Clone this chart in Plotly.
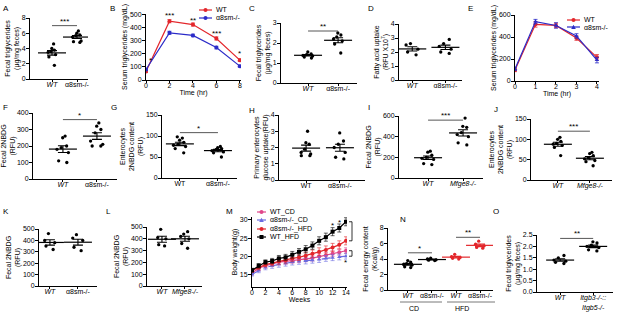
import numpy as np
import plotly.graph_objects as go

W, H = 617, 313
FONT = "Liberation Sans, Arial, sans-serif"
RED = "#e3262b"
BLUE = "#2b2bc8"
PINK = "#e0468a"
LBLUE = "#6b6be0"

# ---------------- data ----------------
A_cats = ["<i>WT</i>", "α8sm-/-"]
A_wt = [4.6, 4.0, 3.8, 3.6, 3.5, 3.2, 2.9, 1.8]
A_ko = [6.3, 6.0, 5.8, 5.7, 5.5, 5.0, 4.9, 4.8]

B_time = [0, 2, 4, 6, 8]
B_wt = [65, 450, 424, 318, 152]
B_wt_err = [8, 12, 12, 12, 10]
B_ko = [80, 361, 341, 248, 106]
B_ko_err = [8, 12, 10, 10, 8]

C_cats = ["<i>WT</i>", "α8sm-/-"]
C_wt = [1.55, 1.45, 1.42, 1.38, 1.35, 1.3, 1.25]
C_ko = [2.5, 2.4, 2.3, 2.2, 2.1, 1.95, 1.5]

D_cats = ["<i>WT</i>", "α8sm-/-"]
D_wt = [2.6, 2.5, 2.2, 2.0, 1.8]
D_ko = [2.9, 2.6, 2.4, 2.2, 2.0, 1.9]

E_time = [0, 1, 2, 3, 4]
E_wt = [100, 515, 505, 390, 215]
E_wt_err = [15, 25, 20, 20, 25]
E_ko = [110, 540, 505, 410, 190]
E_ko_err = [15, 20, 25, 20, 25]

F_cats = ["<i>WT</i>", "α8sm-/-"]
F_wt = [260, 250, 200, 190, 180, 160, 110, 100]
F_ko = [340, 320, 300, 280, 230, 210, 200, 200]

G_cats = ["WT", "α8sm-/-"]
G_wt = [98, 95, 90, 85, 80, 78, 75, 70, 60]
G_ko = [75, 72, 70, 68, 65, 62, 60, 50]

H_cats = ["WT", "α8sm-/-"]
H_wt = [3.0, 2.3, 2.2, 1.9, 1.7, 1.6, 1.5, 1.5]
H_ko = [2.9, 2.4, 2.2, 2.0, 1.7, 1.4, 1.3]

I_cats = ["<i>WT</i>", "<i>Mfge8-/-</i>"]
I_wt = [260, 250, 220, 200, 190, 180, 140, 130]
I_ko = [580, 500, 490, 440, 420, 400, 340, 320]

J_cats = ["<i>WT</i>", "<i>Mfge8-/-</i>"]
J_wt = [105, 100, 95, 90, 88, 85, 80, 60]
J_ko = [68, 65, 60, 55, 52, 48, 45, 35]

K_cats = ["<i>WT</i>", "α8sm-/-"]
K_wt = [460, 400, 380, 350, 320]
K_ko = [450, 420, 400, 340, 310]

L_cats = ["<i>WT</i>", "<i>Mfge8-/-</i>"]
L_wt = [480, 410, 400, 350, 340]
L_ko = [460, 440, 420, 400, 360, 320]

M_weeks = list(range(15))
M_wt_cd = [15.5, 16.8, 17.5, 18.0, 18.5, 18.7, 19.0, 19.2, 19.4, 19.6, 20.0, 20.3, 20.8, 21.2, 21.6]
M_ko_cd = [15.2, 16.2, 17.0, 17.5, 17.9, 18.2, 18.5, 18.7, 18.8, 19.0, 19.2, 19.5, 19.7, 19.9, 20.1]
M_ko_hfd = [16.2, 17.0, 17.8, 18.2, 18.7, 19.0, 19.5, 19.8, 20.2, 20.8, 21.3, 21.8, 22.5, 23.2, 24.3]
M_wt_hfd = [16.3, 17.5, 18.5, 18.8, 19.5, 19.8, 20.5, 21.3, 22.0, 23.0, 24.3, 25.3, 26.8, 27.8, 29.5]
M_err_cd = [0.5, 0.6, 0.6, 0.7, 0.8, 0.8, 0.8, 0.8, 0.8, 0.8, 0.8, 0.8, 0.8, 0.8, 0.8]
M_err_hfd = [0.5, 0.6, 0.6, 0.7, 0.8, 0.8, 0.9, 0.9, 1.0, 1.0, 1.1, 1.1, 1.1, 1.1, 1.1]

N_cats = ["<i>WT</i>", "α8sm-/-", "<i>WT</i>", "α8sm-/-"]
N_groups = ["CD", "HFD"]
N_wt_cd = [3.8, 3.6, 3.4, 3.3, 3.2, 3.0, 2.9]
N_ko_cd = [4.1, 4.0, 3.9, 3.85, 3.8]
N_wt_hfd = [4.6, 4.3, 4.2, 4.1, 4.0]
N_ko_hfd = [6.3, 5.9, 5.7, 5.5, 5.4]

O_cats = ["<i>WT</i>", "<i>Itgb3-/-::<br>Itgb5-/-</i>"]
O_wt = [1.6, 1.5, 1.4, 1.35, 1.3, 1.25]
O_ko = [2.2, 2.15, 2.05, 2.0, 1.95, 1.85, 1.8]

# ---------------- helpers ----------------
fig = go.Figure()
layout = {}
shapes = []
annots = []
state = {"n": 0}
axinfo = {}


def new_axes(xpx, ypx, xrange, yrange, ytickvals, ytitle, xtickvals=None,
             xticktext=None, xtitle=None, ytickfmt=None):
    state["n"] += 1
    n = state["n"]
    sx = "" if n == 1 else str(n)
    xref, yref = "x" + sx, "y" + sx
    common = dict(showline=True, linecolor="black", linewidth=1, ticks="outside",
                  tickwidth=1, tickcolor="black", showgrid=False, zeroline=False,
                  tickfont=dict(size=7, color="black", family=FONT), automargin=False,
                  fixedrange=True)
    xa = dict(common, domain=[xpx[0] / W, xpx[1] / W], range=xrange, anchor=yref,
              ticklen=2, ticklabelstandoff=-3)
    if xtickvals is not None:
        xa.update(tickmode="array", tickvals=xtickvals, ticktext=xticktext)
    if xtitle:
        xa.update(title=dict(text=xtitle, font=dict(size=7, family=FONT, color="black"),
                             standoff=0))
    ya = dict(common, domain=[1 - ypx[1] / H, 1 - ypx[0] / H], range=yrange,
              anchor=xref, ticklen=3, tickmode="array", tickvals=ytickvals,
              ticklabelstandoff=-1,
              title=dict(text=ytitle, font=dict(size=7, family=FONT, color="black"),
                         standoff=1))
    if ytickfmt:
        ya.update(ticktext=[format(v, ytickfmt) for v in ytickvals])
    layout["xaxis" + sx] = xa
    layout["yaxis" + sx] = ya
    axinfo[yref] = (ya["domain"], yrange)
    return xref, yref


def ypaper(yref, v):
    dom, rng = axinfo[yref]
    return dom[0] + (v - rng[0]) / (rng[1] - rng[0]) * (dom[1] - dom[0])


def dots(xref, yref, pos, vals, color="black"):
    fig.add_trace(go.Box(x=[pos] * len(vals), y=vals, xaxis=xref, yaxis=yref,
                         boxpoints="all", jitter=0.9, pointpos=0,
                         fillcolor="rgba(0,0,0,0)",
                         line=dict(color="rgba(0,0,0,0)", width=0),
                         marker=dict(color=color, size=3.3, line=dict(width=0)),
                         showlegend=False, hoverinfo="y"))
    m = float(np.mean(vals))
    s = float(np.std(vals, ddof=1) / np.sqrt(len(vals)))
    fig.add_trace(go.Scatter(x=[pos], y=[m], mode="markers", xaxis=xref, yaxis=yref,
                             marker=dict(symbol="line-ew", size=20, color=color,
                                         line=dict(width=1.2, color=color)),
                             error_y=dict(type="data", array=[s], thickness=1.1,
                                          width=5, color=color),
                             showlegend=False, hoverinfo="y"))


def sig(xref, yref, x0, x1, y, text):
    shapes.append(dict(type="line", xref=xref, yref=yref, x0=x0, x1=x1, y0=y, y1=y,
                       line=dict(color="#444", width=0.9)))
    annots.append(dict(xref=xref, yref=yref, x=(x0 + x1) / 2, y=y, text=text,
                       showarrow=False, yanchor="bottom", yshift=-2,
                       font=dict(size=8, family=FONT, color="black")))


def star(xref, yref, x, y, text):
    annots.append(dict(xref=xref, yref=yref, x=x, y=y, text=text, showarrow=False,
                       yanchor="middle", font=dict(size=8, family=FONT, color="black")))


def letter(px, py, t):
    annots.append(dict(xref="paper", yref="paper", x=px / W, y=1 - py / H, text=t,
                       showarrow=False, xanchor="left", yanchor="top",
                       font=dict(size=8, family=FONT, color="black")))


def legend_item(x0, x1, y, color, text, symbol="circle", dash="solid"):
    """Manual compact legend entry (line sample + marker + label), pixel coords."""
    yp = 1 - y / H
    shapes.append(dict(type="line", xref="paper", yref="paper", x0=x0 / W, x1=x1 / W,
                       y0=yp, y1=yp, line=dict(color=color, width=1.2, dash=dash)))
    xc = (x0 + x1) / 2
    r = 2
    if symbol == "circle":
        shapes.append(dict(type="circle", xref="paper", yref="paper",
                           x0=(xc - r) / W, x1=(xc + r) / W, y0=1 - (y + r) / H,
                           y1=1 - (y - r) / H, fillcolor=color, line=dict(width=0)))
    elif symbol == "square":
        shapes.append(dict(type="rect", xref="paper", yref="paper",
                           x0=(xc - r) / W, x1=(xc + r) / W, y0=1 - (y + r) / H,
                           y1=1 - (y - r) / H, fillcolor=color, line=dict(width=0)))
    else:
        shapes.append(dict(type="path", xref="paper", yref="paper",
                           path=f"M {(xc - 2.3) / W},{1 - (y + 2) / H} L {(xc + 2.3) / W},{1 - (y + 2) / H} "
                                f"L {xc / W},{1 - (y - 2.3) / H} Z",
                           fillcolor=color, line=dict(width=0)))
    annots.append(dict(xref="paper", yref="paper", x=(x1 + 2) / W, y=yp, text=text,
                       showarrow=False, xanchor="left", yanchor="middle",
                       font=dict(size=7, family=FONT, color="black")))


def dot_panel(xpx, ypx, xr, yr, yticks, ytitle, cats, groups, colors=None, fmt=None):
    xref, yref = new_axes(xpx, ypx, xr, yr, yticks, ytitle,
                          xtickvals=list(range(len(cats))), xticktext=cats, ytickfmt=fmt)
    for i, g in enumerate(groups):
        dots(xref, yref, i, g, colors[i] if colors else "black")
    return xref, yref


def line_trace(xref, yref, x, y, err, color, name, symbol="circle", dash="solid",
               ethick=0.8):
    fig.add_trace(go.Scatter(x=x, y=y, mode="lines+markers", name=name, xaxis=xref,
                             yaxis=yref, showlegend=False,
                             line=dict(color=color, width=1.2, dash=dash),
                             marker=dict(color=color, size=4, symbol=symbol),
                             error_y=dict(type="data", array=err, thickness=ethick,
                                          width=2, color=color)))


# ---------------- row 1 ----------------
letter(1, 2, "A")
xa, ya = dot_panel((30, 88), (18, 79), [-0.88, 1.44], [0, 8], [0, 2, 4, 6, 8],
                   "Fecal triglycerides<br>(μg/mg feces)", A_cats, [A_wt, A_ko])
sig(xa, ya, 0, 1, 7.0, "***")

letter(108, 2, "B")
xb, yb = new_axes((146, 241), (14, 80), [0, 8.1], [0, 505], [0, 100, 200, 300, 400, 500],
                  "Serum triglycerides (mg/dL)", xtickvals=[0, 2, 4, 6, 8],
                  xticktext=["0", "2", "4", "6", "8"], xtitle="Time (hr)")
line_trace(xb, yb, B_time, B_wt, B_wt_err, RED, "WT")
line_trace(xb, yb, B_time, B_ko, B_ko_err, BLUE, "α8sm-/-")
star(xb, yb, 0.35, 150, "*")
star(xb, yb, 2, 492, "***")
star(xb, yb, 4, 458, "**")
star(xb, yb, 6, 356, "***")
star(xb, yb, 8, 205, "*")
legend_item(199, 212, 10, RED, "WT")
legend_item(199, 212, 18, BLUE, "α8sm-/-")

letter(247, 2, "C")
xc, yc = dot_panel((281, 357), (23, 83), [-0.9, 1.63], [0, 3], [0, 1, 2, 3],
                   "Fecal triglycerides<br>(μg/mg feces)", C_cats, [C_wt, C_ko])
sig(xc, yc, 0, 1, 2.6, "**")

letter(366, 2, "D")
xd, yd = dot_panel((399, 462), (24, 80), [-0.4, 1.5], [0, 4], [0, 1, 2, 3, 4],
                   "Fatty acid uptake<br>(RFU X10<sup>7</sup>)", D_cats, [D_wt, D_ko])

letter(466, 2, "E")
xe, ye = new_axes((515, 599), (15, 81), [0, 4.1], [0, 600], [0, 200, 400, 600],
                  "Serum triglycerides (mg/dL)", xtickvals=[0, 1, 2, 3, 4],
                  xticktext=["0", "1", "2", "3", "4"], xtitle="Time (hr)")
line_trace(xe, ye, E_time, E_wt, E_wt_err, RED, "WT")
line_trace(xe, ye, E_time, E_ko, E_ko_err, BLUE, "α8sm-/-", symbol="triangle-up")
legend_item(567, 580, 20, RED, "WT")
legend_item(567, 580, 27, BLUE, "α8sm-/-", symbol="triangle")

# ---------------- row 2 ----------------
letter(1, 101, "F")
xf, yf = dot_panel((33, 117), (113, 179), [-0.88, 1.59], [0, 400], [0, 100, 200, 300, 400],
                   "Fecal 2NBDG<br>(RFU)", F_cats, [F_wt, F_ko])
sig(xf, yf, 0, 1, 360, "*")

letter(109, 101, "G")
xg, yg = dot_panel((162, 237), (115, 178), [-0.47, 1.5], [0, 150], [0, 50, 100, 150],
                   "Enterocytes<br>2NBDG content<br>(RFU)", G_cats, [G_wt, G_ko])
sig(xg, yg, 0, 1, 108, "*")

letter(247, 104, "H")
xh, yh = dot_panel((279, 365), (115, 180), [-0.8, 1.74], [0, 4], [0, 1, 2, 3, 4],
                   "Primary enterocytes<br>glucose uptake(RFU)", H_cats, [H_wt, H_ko])

letter(366, 101, "I")
xi, yi = dot_panel((399, 483), (116, 178), [-0.83, 1.57], [0, 600], [0, 200, 400, 600],
                   "Fecal 2NBDG<br>(RFU)", I_cats, [I_wt, I_ko])
sig(xi, yi, 0, 1, 560, "***")

letter(492, 103, "J")
xj, yj = dot_panel((531, 612), (119, 180), [-0.84, 1.69], [0, 150], [0, 50, 100, 150],
                   "Enterocytes<br>2NBDG content<br>(RFU)", J_cats, [J_wt, J_ko])
sig(xj, yj, 0, 1, 120, "***")

# ---------------- row 3 ----------------
letter(1, 205, "K")
xk, yk = dot_panel((39, 97), (229, 286), [-0.39, 1.68], [0, 500],
                   [0, 100, 200, 300, 400, 500], "Fecal 2NBDG<br>(RFU)", K_cats, [K_wt, K_ko])

letter(104, 205, "L")
xl, yl = dot_panel((147, 202), (227, 286), [-0.65, 1.74], [0, 500],
                   [0, 100, 200, 300, 400, 500], "Fecal 2NBDG<br>(RFU)", L_cats, [L_wt, L_ko])

letter(224, 205, "M")
xm, ym = new_axes((252, 347), (217, 287), [0, 14.15], [11.7, 30.8], [15, 20, 25, 30],
                  "Body weight(g)", xtickvals=list(range(0, 15, 2)),
                  xticktext=[str(v) for v in range(0, 15, 2)], xtitle="Weeks")
line_trace(xm, ym, M_weeks, M_wt_cd, M_err_cd, PINK, "WT_CD", ethick=0.6)
line_trace(xm, ym, M_weeks, M_ko_cd, M_err_cd, LBLUE, "α8sm-/-_CD",
           symbol="triangle-up", dash="dash", ethick=0.6)
line_trace(xm, ym, M_weeks, M_ko_hfd, M_err_hfd, RED, "α8sm-/-_HFD", ethick=0.6)
line_trace(xm, ym, M_weeks, M_wt_hfd, M_err_hfd, "black", "WT_HFD", symbol="square",
           ethick=0.6)
star(xm, ym, 12, 28.4, "*")
star(xm, ym, 13, 29.2, "*")
star(xm, ym, 14, 31.0, "**")
star(xm, ym, 14, 18.4, "*")
for top, bot in [(M_wt_hfd[-1], M_ko_hfd[-1]), (M_wt_cd[-1], M_ko_cd[-1])]:
    y0p, y1p = ypaper(ym, top), ypaper(ym, bot)
    shapes.append(dict(type="path", xref="paper", yref="paper",
                       path=f"M {349/W},{y0p} L {352/W},{y0p} L {352/W},{y1p} L {349/W},{y1p}",
                       line=dict(color="black", width=0.8)))
legend_item(257, 266, 212, PINK, "WT_CD")
legend_item(257, 266, 220, LBLUE, "α8sm-/-_CD", symbol="triangle", dash="dash")
legend_item(257, 266, 229, RED, "α8sm-/-_HFD")
legend_item(257, 266, 237, "black", "WT_HFD", symbol="square")

letter(398, 213, "N")
xn, yn = dot_panel((388, 493), (228, 290), [-0.83, 3.54], [0, 8], [0, 2, 4, 6, 8],
                   "Fecal energy content<br>(Kcal/g)", N_cats,
                   [N_wt_cd, N_ko_cd, N_wt_hfd, N_ko_hfd],
                   colors=["black", "black", RED, RED])
sig(xn, yn, 0, 1, 4.8, "*")
sig(xn, yn, 2, 3, 6.8, "**")
for (x0, x1), g in zip([(400, 442), (447, 495)], N_groups):
    shapes.append(dict(type="line", xref="paper", yref="paper", x0=x0 / W, x1=x1 / W,
                       y0=1 - 302 / H, y1=1 - 302 / H, line=dict(color="#555", width=0.8)))
    annots.append(dict(xref="paper", yref="paper", x=(x0 + x1) / 2 / W, y=1 - 308 / H,
                       text=g, showarrow=False, yanchor="middle",
                       font=dict(size=7, family=FONT, color="black")))

letter(491, 205, "O")
xo, yo = dot_panel((537, 613), (235, 292), [-0.7, 1.6], [0, 2.5],
                   [0, 0.5, 1.0, 1.5, 2.0, 2.5], "Fecal triglycerides<br>(μg/mg feces)",
                   O_cats, [O_wt, O_ko], fmt=".1f")
sig(xo, yo, 0, 1, 2.35, "**")

fig.update_layout(**layout)
fig.update_layout(width=W, height=H, margin=dict(l=0, r=0, t=0, b=0),
                  paper_bgcolor="white", plot_bgcolor="white", showlegend=False,
                  font=dict(family=FONT, size=7, color="black"),
                  shapes=shapes, annotations=annots, boxgap=0.3)
fig.write_html("out.html", config={"displayModeBar": False},
               post_script="document.body.style.margin='0px';"
                           "document.body.style.overflow='hidden';")
